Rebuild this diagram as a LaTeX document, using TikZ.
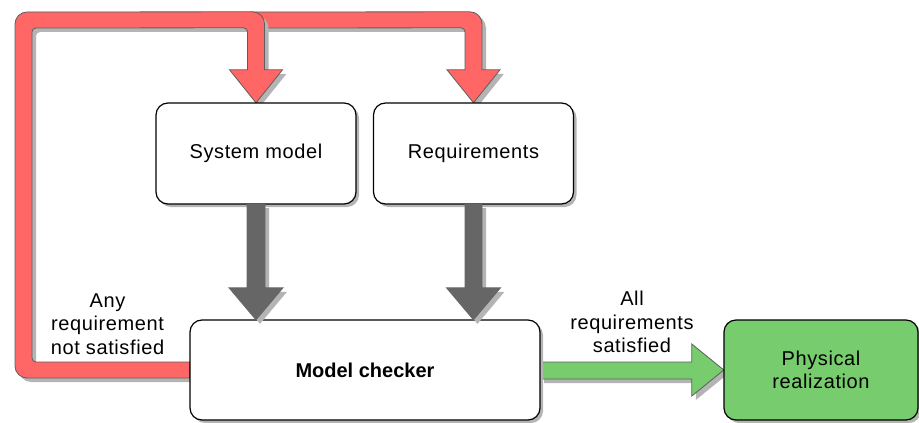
\documentclass[tikz,border=0pt]{standalone}
\usepackage{fontspec}
\setmainfont{Liberation Sans}
\usetikzlibrary{calc,shadows}
\definecolor{redarrow}{HTML}{FF6666}
\definecolor{greenfill}{HTML}{77CC6E}
\definecolor{darkarrow}{HTML}{666666}
\definecolor{shadowgray}{HTML}{B4B4B4}
\definecolor{edgegray}{HTML}{5E5E5E}
\newfontfamily\spacedfont[LetterSpace=3]{Liberation Sans}
\tikzset{
  box/.style={draw=black, line width=1.2pt, rounded corners=12pt, fill=white,
    inner sep=0pt, align=center, font=\fontsize{20}{23.5}\selectfont\spacedfont,
    drop shadow={opacity=1, fill=shadowgray, shadow xshift=3pt, shadow yshift=-3pt}},
  place/.style={inner sep=0pt, draw=none, fill=none},
  fatarrow/.style={line width=0.8pt, line join=miter,
    drop shadow={opacity=1, fill=shadowgray, shadow xshift=4pt, shadow yshift=-4pt}},
  redfat/.style={fatarrow, fill=redarrow, draw=edgegray},
  grayfat/.style={fatarrow, fill=darkarrow, draw=darkarrow},
  greenfat/.style={fatarrow, fill=greenfill, draw=edgegray},
  lbl/.style={align=center, font=\fontsize{20}{23.5}\selectfont\spacedfont, inner sep=0pt}
}
\begin{document}
\begin{tikzpicture}[x=1pt,y=-1pt]
\useasboundingbox (0,0) rectangle (919,423);
% node frames (placed first so arrows can use their anchors)
\node[place, minimum width=200pt, minimum height=101pt] (sys) at (256,153.5) {};
\node[place, minimum width=200pt, minimum height=101pt] (req) at (473.5,153.5) {};
\node[place, minimum width=350pt, minimum height=100pt] (mc) at (365,370) {};
\node[place, minimum width=194pt, minimum height=100pt] (phys) at (821,370) {};

% red arrow: feedback to Requirements
\path[redfat] (250,12) [rounded corners=12pt] -- ($(req.north)+(8.5,-91)$) [sharp corners]
   -- ($(req.north)+(8.5,-33)$) -- ($(req.north)+(26.5,-33)$) -- (req.north)
   -- ($(req.north)+(-26.5,-33)$) -- ($(req.north)+(-8.5,-33)$) [rounded corners=4pt]
   -- ($(req.north)+(-8.5,-75)$) [sharp corners] -- (250,28) -- cycle;

% red arrow: feedback from Model checker to System model
\path[redfat] ($(mc.west)+(0,-8)$) [rounded corners=4pt] -- (32,362) -- (32,28)
   -- ($(sys.north)+(-8.5,-75)$) [sharp corners]
   -- ($(sys.north)+(-8.5,-33)$) -- ($(sys.north)+(-26.5,-33)$) -- (sys.north)
   -- ($(sys.north)+(26.5,-33)$) -- ($(sys.north)+(8.5,-33)$) [rounded corners=12pt]
   -- ($(sys.north)+(8.5,-91)$) -- (15,12) -- (15,378) [sharp corners]
   -- ($(mc.west)+(0,8)$) -- cycle;

% green arrow
\path[greenfat] ($(mc.east)+(0,-8)$) -- ($(phys.west)+(-32,-8)$) -- ($(phys.west)+(-32,-26)$)
   -- (phys.west) -- ($(phys.west)+(-32,26)$) -- ($(phys.west)+(-32,9)$)
   -- ($(mc.east)+(0,9)$) -- cycle;

% boxes
\node[box, minimum width=200pt, minimum height=101pt] (sysbox) at (sys) {System model};
\node[box, minimum width=200pt, minimum height=101pt] (reqbox) at (req) {Requirements};
\node[box, minimum width=350pt, minimum height=100pt, font=\fontsize{20}{23.5}\selectfont\bfseries] (mcbox) at (mc) {Model checker};
\node[box, fill=greenfill, minimum width=194pt, minimum height=100pt] (physbox) at (phys) {Physical\\realization};

% gray arrows
\path[grayfat] ($(sys.south)+(-9,0)$) -- ($(sys.south |- mc.north)+(-9,-32)$)
   -- ($(sys.south |- mc.north)+(-27,-32)$) -- (sys.south |- mc.north)
   -- ($(sys.south |- mc.north)+(27,-32)$) -- ($(sys.south |- mc.north)+(9,-32)$)
   -- ($(sys.south)+(9,0)$) -- cycle;
\path[grayfat] ($(req.south)+(-8.5,0)$) -- ($(req.south |- mc.north)+(-8.5,-32)$)
   -- ($(req.south |- mc.north)+(-27,-32)$) -- (req.south |- mc.north)
   -- ($(req.south |- mc.north)+(27,-32)$) -- ($(req.south |- mc.north)+(8.5,-32)$)
   -- ($(req.south)+(8.5,0)$) -- cycle;

% labels
\node[lbl] (fail) at (107.5,324) {Any\\requirement\\not satisfied};
\node[lbl] (ok) at (632,322) {All\\requirements\\satisfied};
\end{tikzpicture}
\end{document}
